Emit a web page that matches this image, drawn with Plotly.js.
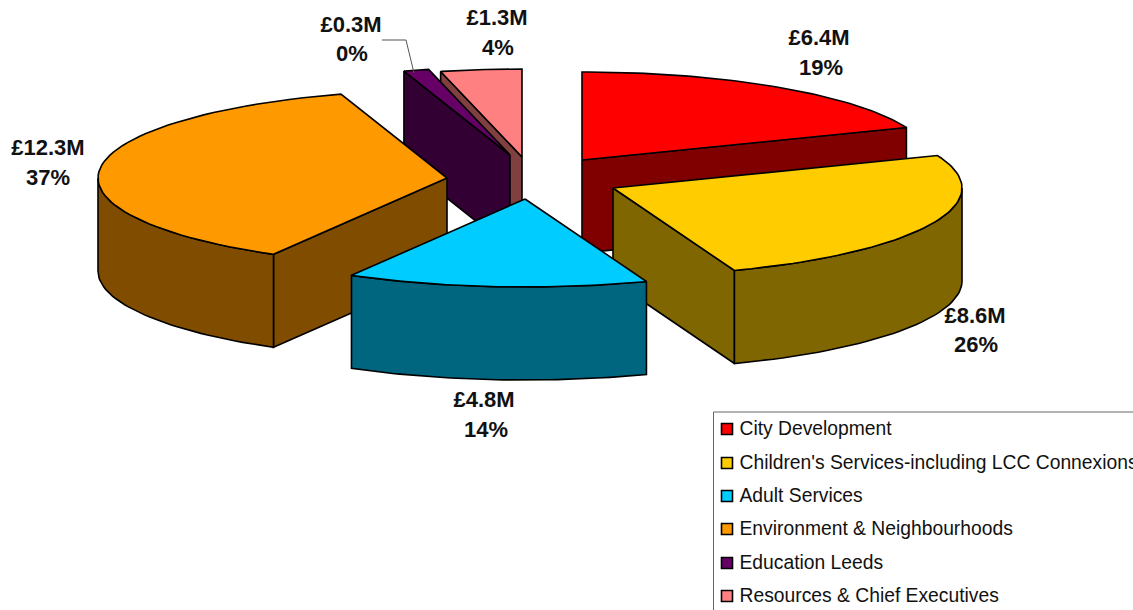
<!DOCTYPE html>
<html>
<head>
<meta charset="utf-8">
<script src="https://cdn.plot.ly/plotly-3.0.1.min.js"></script>
<style>html,body{margin:0;padding:0;background:#fff;overflow:hidden}#chart{width:1133px;height:610px}</style>
</head>
<body>
<div id="chart"></div>
<script>
// Data
const categories = ["City Development","Children's Services-including LCC Connexions","Adult Services","Environment & Neighbourhoods","Education Leeds","Resources & Chief Executives"];
const valuesM = [6.4, 8.6, 4.8, 12.3, 0.3, 1.3];
const valueLabels = ["£6.4M","£8.6M","£4.8M","£12.3M","£0.3M","£1.3M"];
const percentLabels = ["19%","26%","14%","37%","0%","4%"];
const topColors = ["#FF0000","#FFCC00","#00CCFF","#FF9900","#660066","#FF8080"];
const wallColors = ["#800000","#806600","#006680","#804D00","#330033","#804040"];

// Geometry of the tilted pie (not data)
const center = {x:520, y:170}, rx = 349, ry = 88, depth = 93;
const explodeX = [62, 93, 5, -73, -10, 2];
const explodeY = [-10, 18, 29, 8, -15, -13];
const perspectiveShift = [0, -0.6, -1.7, -0.6, 0.4, 0]; // degrees, at the end of each slice
const paintOrder = [0, 5, 4, 3, 1, 2];
const valueLabelPos = [[819,39.5],[975,317.5],[484,401.5],[48,149.5],[351,26.5],[497,19.5]];
const percentLabelPos = [[821,69],[976,346],[486,431],[48,179],[352,55],[498,49]];
const legendRows = [428,462,495,528,562,595];

const total = valuesM.reduce((a,b)=>a+b,0);
const traces = [];
function rad(d){return d*Math.PI/180;}
function face(xs, ys, fill){
  traces.push({type:'scatter',mode:'lines',x:xs,y:ys,fill:'toself',fillcolor:fill,
    line:{color:'#000',width:1.6,shape:'linear'},hoverinfo:'skip',showlegend:false});
}
let acc = 0, prevShift = 0;
const slices = valuesM.map((v,i)=>{
  const a0 = acc/total*360 + prevShift; acc += v; const a1 = acc/total*360 + perspectiveShift[i];
  prevShift = perspectiveShift[i];
  return {i, a0, a1, cx:center.x+explodeX[i], cy:center.y+explodeY[i]};
});
function pt(s,a){return [s.cx+rx*Math.sin(rad(a)), s.cy-ry*Math.cos(rad(a))];}
function drawSlice(s){
  const wall = wallColors[s.i], top = topColors[s.i];
  [[s.a0, s.a0-90],[s.a1, s.a1+90]].forEach(([a,n])=>{
    if(Math.cos(rad(n))<0){
      const p = pt(s,a);
      face([s.cx,p[0],p[0],s.cx,s.cx],[s.cy,p[1],p[1]+depth,s.cy+depth,s.cy],wall);
    }
  });
  const from = Math.max(s.a0,90), to = Math.min(s.a1,270);
  if(to>from){
    const xs=[],ys=[],n=40;
    for(let k=0;k<=n;k++){const p=pt(s,from+(to-from)*k/n);xs.push(p[0]);ys.push(p[1]);}
    for(let k=n;k>=0;k--){const p=pt(s,from+(to-from)*k/n);xs.push(p[0]);ys.push(p[1]+depth);}
    xs.push(xs[0]);ys.push(ys[0]);
    face(xs,ys,wall);
  }
  const xs=[s.cx],ys=[s.cy],n=60;
  for(let k=0;k<=n;k++){const p=pt(s,s.a0+(s.a1-s.a0)*k/n);xs.push(p[0]);ys.push(p[1]);}
  xs.push(s.cx);ys.push(s.cy);
  face(xs,ys,top);
}
paintOrder.forEach(i=>drawSlice(slices[i]));

const labelFont = {family:'"Liberation Sans",Arial,sans-serif',size:22,color:'#111'};
[[valueLabels,valueLabelPos],[percentLabels,percentLabelPos]].forEach(([txt,pos])=>{
  traces.push({type:'scatter',mode:'text',x:pos.map(p=>p[0]),y:pos.map(p=>p[1]),text:txt.map(t=>'<b>'+t+'</b>'),
    textposition:'middle center',textfont:labelFont,hoverinfo:'skip',showlegend:false,cliponaxis:false});
});
traces.push({type:'scatter',mode:'markers',x:legendRows.map(()=>727),y:legendRows.map(r=>r+1),
  marker:{symbol:'square',size:11,color:topColors,line:{color:'#000',width:1.6}},hoverinfo:'skip',showlegend:false});
traces.push({type:'scatter',mode:'text',x:legendRows.map(()=>739.5),y:legendRows.map(r=>r+2),text:categories,
  textposition:'middle right',textfont:{family:'"Liberation Sans",Arial,sans-serif',size:19.3,color:'#111'},
  hoverinfo:'skip',showlegend:false,cliponaxis:true});

const hiddenAxis = {visible:false,fixedrange:true,showgrid:false,zeroline:false};
const layout = {
  width:1133,height:610,margin:{l:0,r:0,t:0,b:0},paper_bgcolor:'#fff',plot_bgcolor:'#fff',showlegend:false,
  xaxis:Object.assign({range:[0,1133]},hiddenAxis),
  yaxis:Object.assign({range:[610,0]},hiddenAxis),
  shapes:[
    {type:'rect',layer:'below',x0:713.5,x1:1200,y0:412,y1:700,line:{color:'#666',width:1},fillcolor:'#fff'},
    {type:'path',path:'M 382 40 L 406 40 L 414 73',line:{color:'#555',width:1}}
  ]
};
Plotly.newPlot('chart',traces,layout,{displayModeBar:false,staticPlot:true});
</script>
</body>
</html>
